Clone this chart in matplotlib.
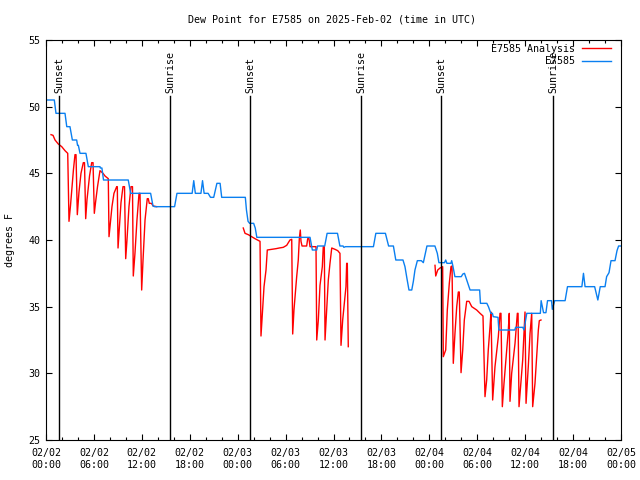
import numpy as np
import matplotlib
matplotlib.use("Agg")
import matplotlib.pyplot as plt
from matplotlib.ticker import MultipleLocator, FixedLocator

# hours since 2025-02-02 00:00 UTC
sunset_h = [1.63, 25.55, 49.46]
sunrise_h = [15.53, 39.44, 63.49]

tick_hours = list(range(0, 73, 6))
tick_labels = ["02/02\n00:00", "02/02\n06:00", "02/02\n12:00", "02/02\n18:00",
               "02/03\n00:00", "02/03\n06:00", "02/03\n12:00", "02/03\n18:00",
               "02/04\n00:00", "02/04\n06:00", "02/04\n12:00", "02/04\n18:00",
               "02/05\n00:00"]

# observed dew point (E7585)
obs_t = [0.0, 1.04, 1.25, 2.38, 2.6, 3.0, 3.3, 3.84, 3.95, 4.05, 4.26, 5.0, 5.3,
         6.76, 6.8, 7.0, 7.2, 10.3, 10.6, 13.1, 13.4, 13.6, 16.1, 16.4, 18.3,
         18.5, 18.7, 19.4, 19.6, 19.8, 20.3, 20.6, 21.0, 21.4, 21.8, 22.0,
         24.96, 25.1, 25.3, 25.5, 26.0, 26.2, 26.4, 33.06, 33.35, 33.9, 34.0,
         34.9, 35.2, 36.5, 36.8, 37.2, 37.3, 37.5, 41.0, 41.3, 42.5, 42.9, 43.5,
         43.8, 44.7, 44.95, 45.2, 45.45, 45.8, 46.0, 46.2, 46.5, 47.0, 47.25,
         47.7, 48.7, 49.0, 49.2, 49.9, 50.05, 50.2, 50.7, 50.8, 50.95, 51.2,
         52.0, 52.2, 52.4, 52.6, 53.1, 54.3, 54.4, 55.2, 55.4, 55.7, 55.9, 56.0,
         56.6, 56.7, 58.7, 58.8, 59.7, 59.85, 60.2, 61.9, 62.0, 62.3, 62.6,
         62.8, 63.3, 63.4, 63.7, 65.0, 65.3, 67.1, 67.3, 67.5, 68.7, 69.1, 69.4,
         70.0, 70.2, 70.5, 70.75, 71.25, 71.5, 71.7, 72.0]
obs_v = [50.5, 50.5, 49.5, 49.5, 48.5, 48.5, 47.5, 47.5, 47.1, 47.1, 46.5, 46.5, 45.5,
         45.5, 45.4, 45.4, 44.5, 44.5, 43.5, 43.5, 42.55, 42.5, 42.5, 43.5, 43.5,
         44.45, 43.5, 43.5, 44.45, 43.5, 43.5, 43.2, 43.2, 44.25, 44.25, 43.2,
         43.2, 42.25, 41.4, 41.25, 41.25, 40.9, 40.2, 40.2, 39.25, 39.25, 39.55,
         39.55, 40.5, 40.5, 39.55, 39.55, 39.45, 39.5, 39.5, 40.5, 40.5, 39.55, 39.55,
         38.5, 38.5, 38.0, 37.1, 36.25, 36.25, 36.9, 37.75, 38.45, 38.45, 38.3,
         39.55, 39.55, 39.0, 38.3, 38.3, 38.5, 38.25, 38.25, 38.45, 38.05, 37.25,
         37.25, 37.45, 37.5, 37.15, 36.25, 36.25, 35.25, 35.25, 35.0, 34.5, 34.5, 34.25,
         34.2, 33.25, 33.25, 33.45, 33.45, 33.25, 34.5, 34.5, 35.45, 34.55, 34.55,
         35.45, 35.45, 34.8, 35.45, 35.45, 36.5, 36.5, 37.5, 36.5, 36.5, 35.5, 36.5,
         36.5, 37.25, 37.55, 38.45, 38.45, 39.2, 39.55, 39.55]

# analysis dew point (E7585 Analysis), NaN marks the gaps
ana_t = [0.63, 0.88, 1.13, 1.54, 1.97, 2.38, 2.72, 2.88, 3.07, 3.26, 3.44, 3.63, 3.76,
         3.92, 4.13, 4.38, 4.67, 4.82, 4.97, 5.13, 5.45, 5.72, 5.89, 6.05, 6.2, 6.45,
         6.76, 7.14, 7.39, 7.8, 7.89, 8.01, 8.26, 8.51, 8.85, 8.93, 9.02, 9.14, 9.39,
         9.64, 9.83, 9.98, 10.14, 10.39, 10.64, 10.83, 10.93, 11.14, 11.39, 11.65,
         11.77, 11.98, 12.15, 12.4, 12.68, 12.81, 12.93, 13.2, 13.42, 13.86,
         np.nan,
         24.7, 24.92, 25.33, 25.76, 26.17, 26.8, 26.92, 27.09, 27.3, 27.55, 27.71, 28.3,
         28.8, 29.21, 29.71, 30.14, 30.55, 30.77, 30.89, 31.05, 31.39, 31.59, 31.72,
         31.84, 31.93, 32.06, 32.64, 32.77, 32.93, 33.06, 33.81, 33.9, 34.1, 34.31,
         34.6, 34.72, 34.85, 34.94, 35.15, 35.35, 35.56, 35.78, 36.19, 36.53, 36.81,
         36.94, 37.15, 37.44, 37.56, 37.65, 37.73, 37.85,
         np.nan,
         48.71, 48.8, 49.05, 49.34, 49.67, 49.75, 50.05, 50.25, 50.5, 50.71, 50.84,
         51.0, 51.21, 51.43, 51.63, 51.75, 51.97, 52.18, 52.38, 52.68, 52.97, 53.31,
         53.93, 54.35, 54.72, 54.97, 55.18, 55.38, 55.6, 55.72, 55.93, 56.22, 56.64,
         56.85, 56.97, 57.14, 57.35, 57.69, 57.89, 58.01, 58.1, 58.31, 58.73, 59.02,
         59.11, 59.23, 59.69, 59.89, 59.98, 60.11, 60.39, 60.61, 60.82, 60.94, 61.23,
         61.44, 61.65, 61.77, 61.98]
ana_v = [47.9, 47.85, 47.5, 47.2, 47.0, 46.7, 46.5, 41.4, 42.6, 44.0, 45.3, 46.4, 46.4,
         41.9, 43.6, 45.0, 45.8, 45.8, 41.6, 43.0, 44.8, 45.8, 45.8, 42.0, 42.8, 44.0,
         45.2, 45.0, 44.8, 44.6, 40.25, 41.0, 42.5, 43.5, 44.0, 44.0, 39.4, 40.5, 42.8,
         44.0, 44.0, 38.6, 40.0, 42.5, 44.0, 44.0, 37.3, 39.0, 41.5, 43.5,
         43.5, 36.25, 38.5, 41.5, 43.1, 43.1, 42.75, 42.75, 42.55, 42.5,
         np.nan,
         40.9, 40.5, 40.4, 40.25, 40.1, 39.9, 32.8, 34.5, 36.5, 37.75, 39.25, 39.3,
         39.35, 39.4, 39.45, 39.6, 40.0, 40.05, 32.95, 34.75, 37.25, 38.5, 40.1,
         40.75, 39.9, 39.55, 39.55, 40.1, 40.1, 39.5, 39.5, 32.5, 34.0, 36.6,
         38.0, 39.5, 39.5, 32.5, 34.75, 37.0, 38.25, 39.4, 39.3, 39.2, 39.0,
         32.1, 34.0, 35.75, 36.5, 38.25, 38.25, 32.0,
         np.nan,
         38.1, 37.3, 37.75, 37.9, 38.0, 31.25, 31.75, 34.75, 36.75, 38.0, 38.05,
         30.75, 33.0, 35.0, 36.1, 36.1, 30.05, 31.75, 34.0, 35.4, 35.4, 35.0,
         34.75, 34.5, 34.3, 28.25, 29.5, 31.75, 33.5, 34.6, 28.0, 30.5, 32.75,
         34.5, 34.5, 27.5, 29.25, 31.75, 33.25, 34.5, 27.9, 30.0, 32.25, 34.5,
         34.5, 27.5, 31.0, 33.5, 34.6, 27.75, 30.5, 33.0, 34.5, 27.5, 29.25,
         31.25, 33.25, 33.95, 34.0]

plt.rcParams['font.family'] = ['DejaVu Sans Mono']
fs = 7.2

fig = plt.figure(figsize=(6.4, 4.8), dpi=100)
ax = fig.add_axes([46/640, 40/480, 575/640, 400/480])

ax.plot(ana_t, ana_v, color='#ff0000', linewidth=1.0, label='E7585 Analysis')
ax.plot(obs_t, obs_v, color='#0a7ff0', linewidth=1.0, label='E7585')

# sunset / sunrise markers
for h in sunset_h:
    ax.plot([h, h], [25, 50.8], color='black', linewidth=1.0)
    ax.text(h + 0.1, 51.0, 'Sunset', rotation=90, ha='center', va='bottom', fontsize=fs)
for h in sunrise_h:
    ax.plot([h, h], [25, 50.8], color='black', linewidth=1.0)
    ax.text(h + 0.1, 51.0, 'Sunrise', rotation=90, ha='center', va='bottom', fontsize=fs)

ax.set_xlim(0, 72)
ax.set_ylim(25, 55)
ax.xaxis.set_major_locator(FixedLocator(tick_hours))
ax.set_xticklabels(tick_labels)
ax.xaxis.set_minor_locator(MultipleLocator(2))
ax.yaxis.set_major_locator(MultipleLocator(5))
ax.tick_params(which='both', direction='in', top=True, right=True, labelsize=fs)
ax.tick_params(which='major', length=4, width=0.8)
ax.tick_params(which='minor', length=2, width=0.8)
ax.tick_params(axis='x', pad=6)
ax.tick_params(axis='y', pad=4)
for s in ax.spines.values():
    s.set_linewidth(0.8)

ax.legend(loc='upper right', bbox_to_anchor=(0.982, 0.99), frameon=False,
          markerfirst=False, fontsize=fs, handlelength=2.9, handletextpad=0.7,
          labelspacing=0.25, borderpad=0, borderaxespad=0)

fig.text(332/640, 1 - 19/480, 'Dew Point for E7585 on 2025-Feb-02 (time in UTC)',
         ha='center', va='center', fontsize=fs)
fig.text(10/640, 0.5, 'degrees F', rotation=90, ha='center', va='center', fontsize=fs)

fig.savefig('out.png', dpi=100)
